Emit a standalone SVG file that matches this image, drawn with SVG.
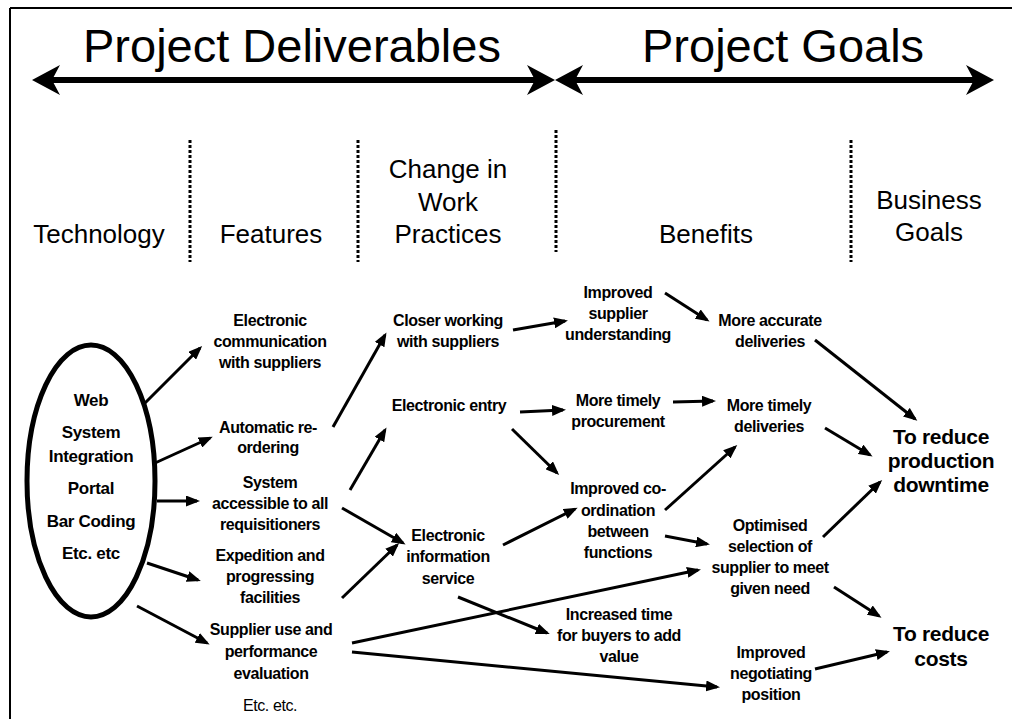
<svg xmlns="http://www.w3.org/2000/svg" width="1012" height="719" viewBox="0 0 1012 719">
<style>
text{font-family:"Liberation Sans",Arial,Helvetica,sans-serif;fill:#000;text-anchor:middle}
.ti{font-size:47px;text-anchor:start}
.h{font-size:26px}
.n{font-size:16px;font-weight:bold;letter-spacing:-0.4px}
.e{font-size:17px;font-weight:bold;letter-spacing:-0.3px}
.g{font-size:21px;font-weight:bold;letter-spacing:-0.3px}
.r{font-size:16px;letter-spacing:-0.4px}
.dot{stroke:#000;stroke-width:3;stroke-dasharray:3 2;fill:none}
.c line{stroke:#000;stroke-width:3;marker-end:url(#ah)}
.big{stroke:#000;stroke-width:6}
</style>
<defs>
<marker id="ah" markerUnits="userSpaceOnUse" markerWidth="14" markerHeight="11" refX="11" refY="5.5" orient="auto">
<path d="M0,0 L14,5.5 L0,11 Z" fill="#000"/>
</marker>
</defs>
<rect width="1012" height="719" fill="#fff"/>
<g id="frame"><line x1="10" y1="8" x2="1012" y2="8" stroke="#000" stroke-width="2"/><line x1="10" y1="8" x2="10" y2="719" stroke="#000" stroke-width="2"/></g>
<g id="titles">
<text class="ti" x="83" y="62">Project Deliverables</text>
<text class="ti" x="642" y="62">Project Goals</text>
<line class="big" x1="40" y1="80" x2="548" y2="80"/>
<line class="big" x1="562" y1="80" x2="986" y2="80"/>
<path d="M32,80 L60,65 L52,80 L60,95 Z"/>
<path d="M555,80 L527,65 L535,80 L527,95 Z"/>
<path d="M555,80 L583,65 L575,80 L583,95 Z"/>
<path d="M994,80 L966,65 L974,80 L966,95 Z"/>
</g>
<g id="columns">
<line class="dot" x1="190" y1="140" x2="190" y2="262"/>
<line class="dot" x1="358" y1="140" x2="358" y2="262"/>
<line class="dot" x1="556" y1="130" x2="556" y2="252"/>
<line class="dot" x1="851" y1="140" x2="851" y2="262"/>
<text class="h" x="99" y="243">Technology</text>
<text class="h" x="271" y="243">Features</text>
<text class="h" x="448" y="178">Change in</text>
<text class="h" x="448" y="211">Work</text>
<text class="h" x="448" y="243">Practices</text>
<text class="h" x="706" y="243">Benefits</text>
<text class="h" x="929" y="209">Business</text>
<text class="h" x="929" y="241">Goals</text>
</g>
<g id="technology">
<ellipse cx="91" cy="481" rx="64" ry="136" fill="none" stroke="#000" stroke-width="5"/>
<text class="e" x="91" y="406">Web</text>
<text class="e" x="91" y="438">System</text>
<text class="e" x="91" y="462">Integration</text>
<text class="e" x="91" y="494">Portal</text>
<text class="e" x="91" y="527">Bar Coding</text>
<text class="e" x="91" y="559">Etc. etc</text>
</g>
<g id="f-comm"><text class="n" x="270" y="326">Electronic</text><text class="n" x="270" y="347">communication</text><text class="n" x="270" y="368">with suppliers</text></g>
<g id="f-reorder"><text class="n" x="268" y="433">Automatic re-</text><text class="n" x="268" y="453">ordering</text></g>
<g id="f-access"><text class="n" x="270" y="488">System</text><text class="n" x="270" y="509">accessible to all</text><text class="n" x="270" y="530">requisitioners</text></g>
<g id="f-expedition"><text class="n" x="270" y="561">Expedition and</text><text class="n" x="270" y="582">progressing</text><text class="n" x="270" y="603">facilities</text></g>
<g id="f-supplier"><text class="n" x="271" y="635">Supplier use and</text><text class="n" x="271" y="657">performance</text><text class="n" x="271" y="679">evaluation</text></g>
<g id="f-etc"><text class="r" x="270" y="711">Etc. etc.</text></g>
<g id="w-closer"><text class="n" x="448" y="326">Closer working</text><text class="n" x="448" y="347">with suppliers</text></g>
<g id="w-entry"><text class="n" x="449" y="411">Electronic entry</text></g>
<g id="w-info"><text class="n" x="448" y="541">Electronic</text><text class="n" x="448" y="562">information</text><text class="n" x="448" y="584">service</text></g>
<g id="b-understanding"><text class="n" x="618" y="298">Improved</text><text class="n" x="618" y="319">supplier</text><text class="n" x="618" y="340">understanding</text></g>
<g id="b-procurement"><text class="n" x="618" y="406">More timely</text><text class="n" x="618" y="427">procurement</text></g>
<g id="b-coord"><text class="n" x="618" y="494">Improved co-</text><text class="n" x="618" y="516">ordination</text><text class="n" x="618" y="537">between</text><text class="n" x="618" y="558">functions</text></g>
<g id="b-time"><text class="n" x="619" y="620">Increased time</text><text class="n" x="619" y="641">for buyers to add</text><text class="n" x="619" y="662">value</text></g>
<g id="b-accurate"><text class="n" x="770" y="326">More accurate</text><text class="n" x="770" y="347">deliveries</text></g>
<g id="b-timely"><text class="n" x="769" y="411">More timely</text><text class="n" x="769" y="432">deliveries</text></g>
<g id="b-optimised"><text class="n" x="770" y="531">Optimised</text><text class="n" x="770" y="552">selection of</text><text class="n" x="770" y="573">supplier to meet</text><text class="n" x="770" y="594">given need</text></g>
<g id="b-negotiating"><text class="n" x="771" y="658">Improved</text><text class="n" x="771" y="679">negotiating</text><text class="n" x="771" y="700">position</text></g>
<g id="g-downtime"><text class="g" x="941" y="444">To reduce</text><text class="g" x="941" y="468">production</text><text class="g" x="941" y="492">downtime</text></g>
<g id="g-costs"><text class="g" x="941" y="641">To reduce</text><text class="g" x="941" y="666">costs</text></g>
<g id="connectors" class="c">
<line x1="145" y1="403" x2="200" y2="348"/>
<line x1="155" y1="463" x2="210" y2="438"/>
<line x1="157" y1="501" x2="197" y2="501"/>
<line x1="147" y1="563" x2="198" y2="580"/>
<line x1="137" y1="606" x2="207" y2="643"/>
<line x1="333" y1="427" x2="385" y2="335"/>
<line x1="350" y1="490" x2="385" y2="430"/>
<line x1="342" y1="508" x2="403" y2="543"/>
<line x1="342" y1="598" x2="397" y2="545"/>
<line x1="352" y1="643" x2="698" y2="570"/>
<line x1="352" y1="652" x2="717" y2="687"/>
<line x1="458" y1="597" x2="547" y2="633"/>
<line x1="503" y1="545" x2="575" y2="509"/>
<line x1="513" y1="330" x2="565" y2="321"/>
<line x1="520" y1="412" x2="563" y2="410"/>
<line x1="512" y1="429" x2="557" y2="473"/>
<line x1="665" y1="293" x2="707" y2="320"/>
<line x1="673" y1="402" x2="713" y2="401"/>
<line x1="665" y1="510" x2="735" y2="447"/>
<line x1="665" y1="536" x2="707" y2="544"/>
<line x1="815" y1="340" x2="915" y2="419"/>
<line x1="825" y1="428" x2="870" y2="455"/>
<line x1="823" y1="537" x2="880" y2="482"/>
<line x1="834" y1="587" x2="879" y2="616"/>
<line x1="815" y1="669" x2="887" y2="652"/>
</g>
</svg>
